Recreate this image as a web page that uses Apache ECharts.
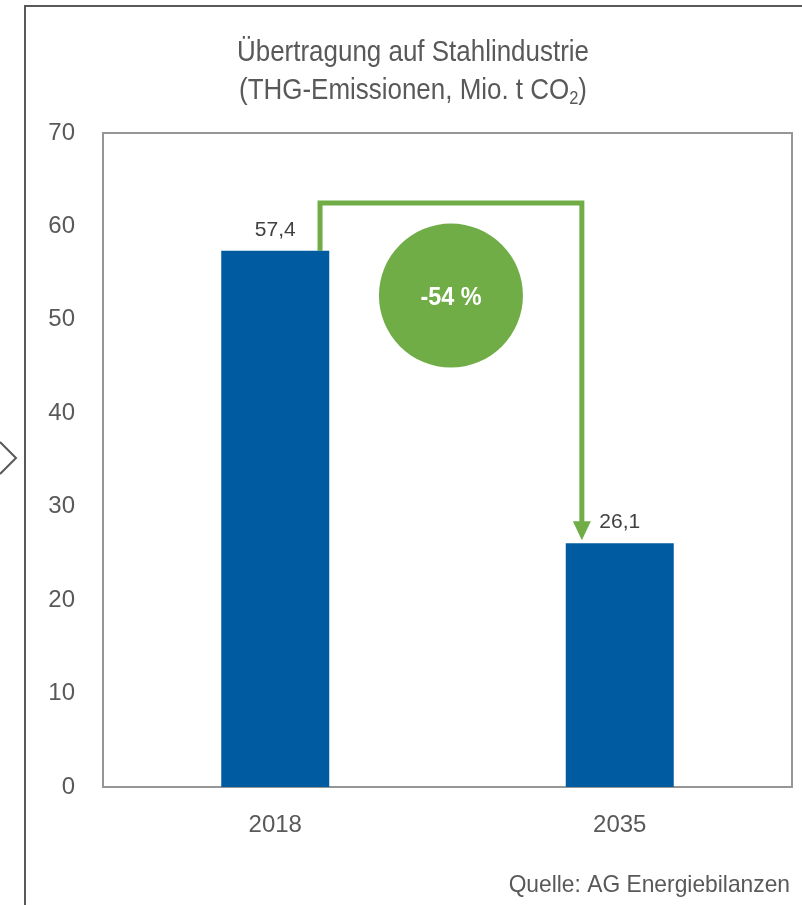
<!DOCTYPE html>
<html><head><meta charset="utf-8">
<script src="https://cdn.jsdelivr.net/npm/echarts@6/dist/echarts.min.js"></script>
<style>html,body{margin:0;padding:0;background:#fff}#c{width:802px;height:905px}</style>
</head><body><div id="c"></div>
<script>
const categories = ['2018', '2035'];
const values = [57.4, 26.1];
const valueLabels = ['57,4', '26,1'];
const yTicks = [0, 10, 20, 30, 40, 50, 60, 70];
const changeLabel = '-54 %';
const arrowTopValue = 62.5;
const circleValue = 52.6;
const FONT = "'Liberation Sans Narrow','Arial Narrow','Liberation Sans',Arial,sans-serif";
const TXT = '#595959';

const chart = echarts.init(document.getElementById('c'), null, {renderer: 'canvas'});
chart.setOption({
  animation: false,
  backgroundColor: '#fff',
  grid: {left: 103, right: 10, top: 133, bottom: 118, show: true, borderColor: '#969696', borderWidth: 2, containLabel: false},
  xAxis: {
    type: 'category', data: categories,
    axisLine: {lineStyle: {color: '#969696', width: 2}},
    axisTick: {show: false},
    axisLabel: {fontFamily: FONT, fontSize: 24, color: TXT, margin: 26}
  },
  yAxis: {
    type: 'value', min: 0, max: 70, interval: 10,
    axisLine: {show: false}, axisTick: {show: false}, splitLine: {show: false},
    axisLabel: {fontFamily: FONT, fontSize: 24, color: TXT, margin: 28}
  },
  series: [{
    type: 'bar', data: values, barWidth: 108, itemStyle: {color: '#005BA1'},
    label: {
      show: true, position: 'top', distance: 10,
      fontFamily: FONT, fontSize: 21, color: '#404040',
      formatter: p => valueLabels[p.dataIndex]
    }
  }]
});

const p1 = chart.convertToPixel({seriesIndex: 0}, [0, values[0]]);
const p2 = chart.convertToPixel({seriesIndex: 0}, [1, values[1]]);
const pt = chart.convertToPixel({seriesIndex: 0}, [0, arrowTopValue]);
const pcy = chart.convertToPixel({yAxisIndex: 0}, circleValue);
const step = p2[0] - p1[0];
const xa = p1[0] + step * 0.13;
const xb = p2[0] - step * 0.11;
const cx = p1[0] + step * 0.51;
const G = '#70AD47';
chart.setOption({
  graphic: [
    {type: 'polyline', shape: {points: [[25, 905], [25, 6], [802, 6]]}, style: {stroke: '#595959', lineWidth: 2, fill: null}},
    {type: 'polyline', shape: {points: [[0, 442], [16, 458], [0, 474]]}, style: {stroke: '#595959', lineWidth: 2, fill: null}},
    {type: 'text', x: 413, y: 34, scaleX: 0.865,
      style: {
        text: '{t|Übertragung auf Stahlindustrie}\n{t|(THG-Emissionen, Mio. t CO}{s|2}{t|)}',
        textAlign: 'center',
        rich: {
          t: {fontFamily: FONT, fontSize: 30, fill: TXT, lineHeight: 38},
          s: {fontFamily: FONT, fontSize: 19, fill: TXT, lineHeight: 38, padding: [16, 0, 0, 0]}
        }
      }},
    {type: 'polyline', shape: {points: [[xa, p1[1]], [xa, pt[1]], [xb, pt[1]], [xb, p2[1] - 20]]}, style: {stroke: G, lineWidth: 5, fill: null}},
    {type: 'polygon', shape: {points: [[xb - 9, p2[1] - 22], [xb + 9, p2[1] - 22], [xb, p2[1] - 3]]}, style: {fill: G}},
    {type: 'circle', shape: {cx: cx, cy: pcy, r: 72}, style: {fill: G}},
    {type: 'text', x: cx, y: pcy + 2, scaleX: 0.9, style: {text: changeLabel, fill: '#fff', font: "bold 26px " + FONT, textAlign: 'center', textVerticalAlign: 'middle'}},
    {type: 'text', x: 790, y: 885, scaleX: 0.95, style: {text: 'Quelle: AG Energiebilanzen', fill: TXT, font: "24px " + FONT, textAlign: 'right', textVerticalAlign: 'middle'}}
  ]
});
</script></body></html>
